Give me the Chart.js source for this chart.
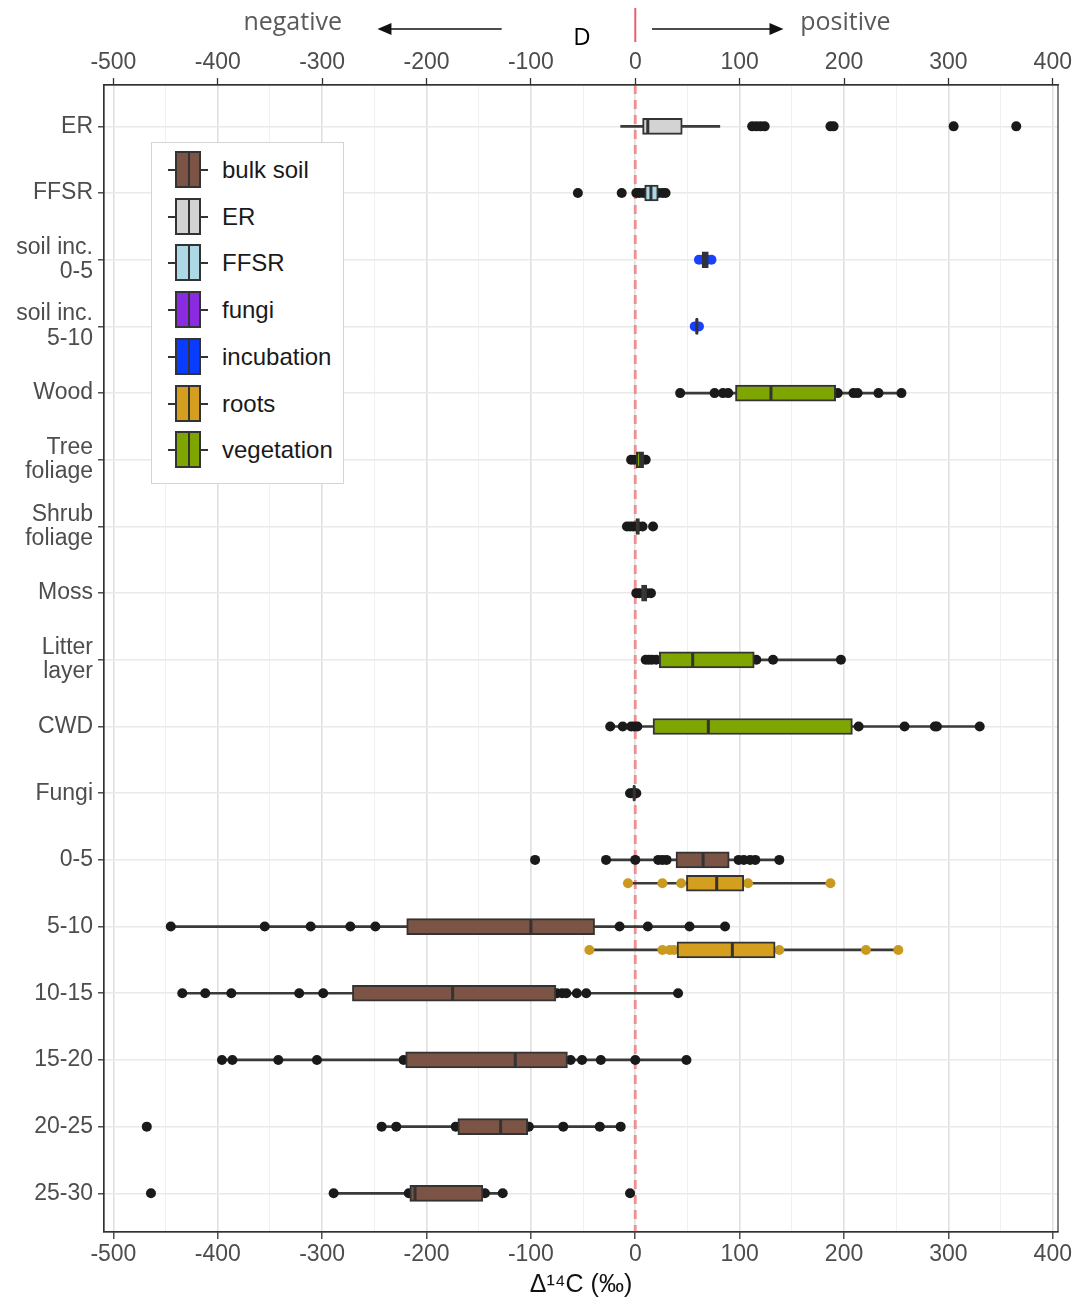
<!DOCTYPE html>
<html>
<head>
<meta charset="utf-8">
<script src="https://cdn.jsdelivr.net/npm/chart.js@4"></script>
<style>
body { margin: 0; background: #fff; }
#wrap { position: relative; width: 1089px; height: 1306px; }
#chart { display: block; }
#legend {
    position: absolute; left: 151px; top: 142px; width: 193px; height: 342px;
    border: 1px solid #d4d4d4; background: #fff; box-sizing: border-box;
    font-family: 'Liberation Sans', Arial, sans-serif;
}
.item { position: absolute; left: 0; height: 38px; width: 190px; }
.icon { position: absolute; left: 16px; top: 0; width: 40px; height: 38px; }
.icon .wh { position: absolute; left: 0; right: 0; top: 18px; height: 2px; background: #333; }
.icon .bx { position: absolute; left: 7px; top: 0; width: 26px; height: 37px; border: 2px solid #333; box-sizing: border-box; }
.icon .md { position: absolute; left: 11px; top: 0; width: 2px; height: 33px; background: #333; }
.item span { position: absolute; left: 70px; top: 0; line-height: 38px; font-size: 24px; color: #1a1a1a; }
</style>
</head>
<body>
<div id="wrap">
    <canvas id="chart" width="1089" height="1306"></canvas>
    <div id="legend"></div>
</div>
<script>
// categories (top to bottom) and x axis
const categories = ['ER', 'FFSR', ['soil inc.', '0-5'], ['soil inc.', '5-10'], 'Wood', ['Tree', 'foliage'],
    ['Shrub', 'foliage'], 'Moss', ['Litter', 'layer'], 'CWD', 'Fungi', '0-5', '5-10', '10-15', '15-20', '20-25', '25-30'];
const xTicks = [-500, -450, -400, -350, -300, -250, -200, -150, -100, -50, 0, 50, 100, 150, 200, 250, 300, 350, 400];
const xMin = -509;
const xMax = 405;

const groups = ['bulk soil', 'ER', 'FFSR', 'fungi', 'incubation', 'roots', 'vegetation'];

// one entry per box
const boxCategory = [0, 1, 2, 3, 4, 5, 6, 7, 8, 9, 10, 11, 11, 12, 12, 13, 14, 15, 16];
const boxGroup = ['ER', 'FFSR', 'incubation', 'incubation', 'vegetation', 'vegetation', 'vegetation', 'vegetation',
    'vegetation', 'vegetation', 'fungi', 'bulk soil', 'roots', 'bulk soil', 'roots', 'bulk soil', 'bulk soil', 'bulk soil', 'bulk soil'];
const whiskerLow  = [-14,  2, 61, 57,  43, -4, -8,  1,  10, -24, -5, -28,  -7, -445, -44, -434, -396, -243, -289];
const q1          = [  7,  9, 64, 58,  96,  1,  0,  6,  23,  17, -2,  39,  49, -219,  40, -271, -220, -170, -216];
const median      = [ 12, 15, 67, 59, 130,  5,  2,  9,  55,  70, -1,  65,  78, -100,  93, -175, -115, -129, -211];
const q3          = [ 45, 22, 70, 60, 192,  8,  4, 11, 114, 208,  0,  90, 104,  -39, 134,  -76,  -65, -103, -146];
const whiskerHigh = [ 81, 28, 73, 61, 255, 10,  8, 15, 197, 330,  1, 138, 187,   86, 252,   41,   49,  -14, -127];

// observed points, same order as boxes
const pointValues = [
    [112, 116, 120, 124, 187, 190, 305, 365],
    [-55, -13, 1, 4, 8, 22, 26, 29],
    [61, 65, 69, 73],
    [57, 61],
    [43, 76, 84, 89, 194, 209, 213, 233, 255],
    [-4, -1, 3, 7, 10],
    [-8, -5, -2, 1, 3, 7, 17],
    [1, 4, 8, 11, 15],
    [10, 13, 16, 20, 116, 132, 197],
    [-24, -12, -4, -1, 2, 214, 258, 287, 289, 330],
    [-5, -3, -1, 1],
    [-96, -28, 0, 22, 26, 30, 99, 104, 110, 115, 138],
    [-7, 26, 44, 108, 187],
    [-445, -355, -311, -273, -249, -15, 12, 52, 86],
    [-44, 26, 33, 37, 138, 221, 252],
    [-434, -412, -387, -322, -299, -75, -70, -66, -56, -47, 41],
    [-396, -386, -342, -305, -222, -62, -51, -33, 0, 49],
    [-468, -243, -229, -172, -102, -69, -34, -14],
    [-464, -289, -217, -144, -127, -5]
];

const groupFill = {
    'bulk soil': '#7c5446', 'ER': '#d3d3d3', 'FFSR': '#add8e6', 'fungi': '#8a2be2',
    'incubation': '#0a3cff', 'roots': '#d49f1f', 'vegetation': '#7fa600'
};
const pointColor = { 'roots': '#c99a1e', 'incubation': '#1a40ff' };
const dodge = g => g === 'roots' ? 0.35 : 0;
const rowOf = i => boxCategory[i] + dodge(boxGroup[i]);

// legend
const legend = document.getElementById('legend');
groups.forEach((g, i) => {
    const it = document.createElement('div');
    it.className = 'item';
    it.style.top = (8 + i * 46.7) + 'px';
    it.innerHTML = `<div class="icon"><div class="wh"></div><div class="bx" style="background:${groupFill[g]}"><div class="md"></div></div></div><span>${g}</span>`;
    legend.appendChild(it);
});

const whiskerData = boxGroup.map((g, i) => ({ x: [whiskerLow[i], whiskerHigh[i]], y: rowOf(i) }));
const boxData = boxGroup.map((g, i) => ({ x: [q1[i], q3[i]], y: rowOf(i) }));
const medianData = boxGroup.map((g, i) => ({ x: median[i], y: rowOf(i) }));
const pts = [];
const ptColors = [];
pointValues.forEach((vals, i) => {
    vals.forEach(v => {
        pts.push({ x: v, y: rowOf(i) });
        ptColors.push(pointColor[boxGroup[i]] || '#1a1a1a');
    });
});

const header = {
    id: 'header',
    afterDraw(chart) {
        const { ctx, chartArea: a, scales: { x } } = chart;
        ctx.save();
        ctx.strokeStyle = '#333';
        ctx.lineWidth = 1.2;
        ctx.strokeRect(a.left, a.top, a.right - a.left, a.bottom - a.top);

        const arrow = (from, to) => {
            const x1 = x.getPixelForValue(from), x2 = x.getPixelForValue(to);
            const dir = Math.sign(x2 - x1);
            ctx.strokeStyle = '#111';
            ctx.lineWidth = 1.5;
            ctx.beginPath();
            ctx.moveTo(x1, 29);
            ctx.lineTo(x2 - dir * 10, 29);
            ctx.stroke();
            ctx.fillStyle = '#111';
            ctx.beginPath();
            ctx.moveTo(x2, 29);
            ctx.lineTo(x2 - dir * 14, 23);
            ctx.lineTo(x2 - dir * 14, 35);
            ctx.closePath();
            ctx.fill();
        };
        arrow(-128, -247);
        arrow(16, 142);

        ctx.font = "25px 'Open Sans', sans-serif";
        ctx.fillStyle = '#5a5a5a';
        ctx.textBaseline = 'middle';
        ctx.textAlign = 'right';
        ctx.fillText('negative', x.getPixelForValue(-281), 23);
        ctx.textAlign = 'left';
        ctx.fillText('positive', x.getPixelForValue(158), 23);

        ctx.font = "24px 'Open Sans', sans-serif";
        ctx.fillStyle = '#000';
        ctx.textAlign = 'center';
        ctx.fillText('D', x.getPixelForValue(-51), 38);

        ctx.strokeStyle = '#e8606a';
        ctx.lineWidth = 2;
        ctx.beginPath();
        ctx.moveTo(x.getPixelForValue(0), 8);
        ctx.lineTo(x.getPixelForValue(0), 42);
        ctx.stroke();
        ctx.restore();
    }
};

Chart.defaults.font.family = "'Liberation Sans', Arial, sans-serif";

const xTickOpts = {
    autoSkip: false, maxRotation: 0, padding: 2, color: '#4d4d4d', font: { size: 23 },
    callback: v => v % 100 === 0 ? v : ''
};
const isMajor = c => c.tick && c.tick.value % 100 === 0;

new Chart(document.getElementById('chart'), {
    type: 'bar',
    data: {
        datasets: [
            {
                type: 'line', order: 6,
                data: [{ x: 0, y: -0.62 }, { x: 0, y: 16.58 }],
                borderColor: 'rgba(240, 90, 95, 0.6)', borderWidth: 3, borderDash: [9, 6],
                pointRadius: 0
            },
            {
                type: 'bar', indexAxis: 'y', order: 5, grouped: false,
                data: whiskerData, backgroundColor: '#3a3a3a', barThickness: 2, borderWidth: 0
            },
            {
                type: 'scatter', order: 4,
                data: pts, backgroundColor: ptColors, pointRadius: 5, borderWidth: 0
            },
            {
                type: 'bar', indexAxis: 'y', order: 3, grouped: false,
                data: boxData, backgroundColor: boxGroup.map(g => groupFill[g]),
                borderColor: '#333', borderWidth: 2, borderSkipped: false, barThickness: 16
            },
            {
                type: 'scatter', order: 2,
                data: medianData, pointStyle: 'line', rotation: 90, pointRadius: 7.5,
                borderColor: '#333', borderWidth: 3
            }
        ]
    },
    options: {
        responsive: false,
        animation: false,
        indexAxis: 'y',
        layout: { padding: { right: 31 } },
        plugins: { legend: { display: false }, tooltip: { enabled: false } },
        scales: {
            x: {
                type: 'linear', position: 'bottom', min: xMin, max: xMax, offset: false,
                afterBuildTicks: s => { s.ticks = xTicks.map(v => ({ value: v })); },
                afterFit: s => { s.height = 74; },
                ticks: xTickOpts,
                grid: {
                    offset: false,
                    color: c => isMajor(c) ? '#e0e0e0' : '#f0f0f0',
                    lineWidth: c => isMajor(c) ? 1.6 : 1,
                    tickColor: c => isMajor(c) ? '#333' : 'rgba(0,0,0,0)',
                    tickLength: 7, tickWidth: 1.3
                },
                border: { color: '#333', width: 1.2 },
                title: {
                    display: true, text: 'Δ¹⁴C (‰)', color: '#111', font: { size: 25 },
                    padding: { top: 0, bottom: 6 }
                }
            },
            x2: {
                type: 'linear', position: 'top', min: xMin, max: xMax, offset: false,
                afterBuildTicks: s => { s.ticks = xTicks.map(v => ({ value: v })); },
                afterFit: s => { s.height = 85; },
                ticks: xTickOpts,
                grid: {
                    offset: false,
                    drawOnChartArea: false,
                    tickColor: c => isMajor(c) ? '#333' : 'rgba(0,0,0,0)',
                    tickLength: 7, tickWidth: 1.3
                },
                border: { color: '#333', width: 1.2 }
            },
            y: {
                type: 'linear', reverse: true, min: -0.62, max: 16.58, offset: false,
                afterBuildTicks: s => { s.ticks = categories.map((c, i) => ({ value: i })); },
                afterFit: s => { s.width = 104; },
                ticks: {
                    autoSkip: false, padding: 5, color: '#4d4d4d',
                    font: { size: 23, lineHeight: 1.07 },
                    callback: v => categories[v]
                },
                grid: { offset: false, color: '#e9e9e9', lineWidth: 1.6, tickColor: '#333', tickLength: 6, tickWidth: 1.3 },
                border: { color: '#333', width: 1.2 }
            }
        }
    },
    plugins: [header]
});
</script>
</body>
</html>
